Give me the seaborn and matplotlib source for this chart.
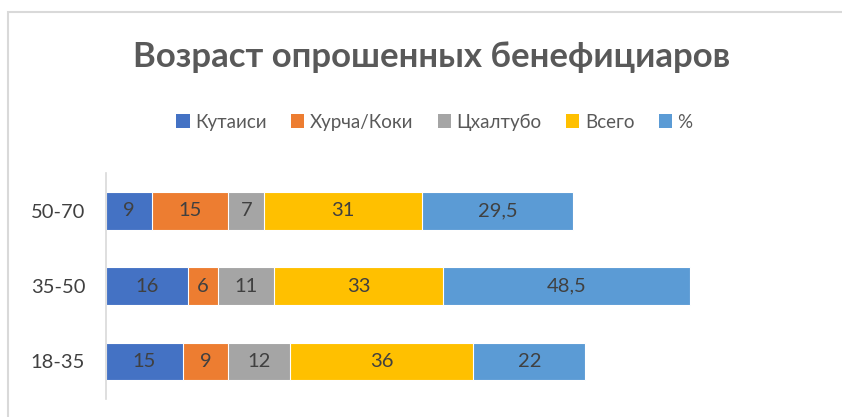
import matplotlib
matplotlib.use("Agg")
import matplotlib.pyplot as plt
import seaborn as sns
import pandas as pd
import numpy as np
from matplotlib.patches import Rectangle, Patch

categories = ["50-70", "35-50", "18-35"]
series_names = ["Кутаиси", "Хурча/Коки", "Цхалтубо", "Всего", "%"]
kutaisi = [9, 16, 15]
khurcha = [15, 6, 9]
tskhaltubo = [7, 11, 12]
vsego = [31, 33, 36]
percent = [29.5, 48.5, 22]
labels_text = [
    ["9", "16", "15"],
    ["15", "6", "9"],
    ["7", "11", "12"],
    ["31", "33", "36"],
    ["29,5", "48,5", "22"],
]
colors = ["#4472C4", "#ED7D31", "#A5A5A5", "#FFC000", "#5B9BD5"]

sns.set_theme(style="white")
plt.rcParams["font.family"] = ["Lato", "DejaVu Sans"]

fig = plt.figure(figsize=(8.42, 4.17), dpi=100)
fig.patch.set_facecolor("white")
# chart frame (cropped at right/bottom)
fig.patches.append(Rectangle((8 / 842, -0.1), 1.2, 1 - 12 / 417 + 0.1,
                             transform=fig.transFigure, fill=False,
                             edgecolor="#D9D9D9", linewidth=1.5))

ax = fig.add_axes([106 / 842, 1 - 399 / 417, 714 / 842, 226 / 417])

series = [kutaisi, khurcha, tskhaltubo, vsego, percent]
cum = np.cumsum(np.array(series, dtype=float), axis=0)
for i in range(len(series) - 1, -1, -1):
    df = pd.DataFrame({"cat": categories, "val": cum[i]})
    sns.barplot(data=df, x="val", y="cat", order=categories, orient="h",
                color=colors[i], saturation=1, width=0.5, ax=ax,
                edgecolor="white", linewidth=0.8)

for i, s in enumerate(series):
    for j, v in enumerate(s):
        ax.text(cum[i][j] - v / 2, j, labels_text[i][j], ha="center",
                va="center", fontsize=14.5, color="#404040")

ax.set_xlim(0, 140)
ax.set_ylim(2.5, -0.5)
ax.set_xlabel("")
ax.set_ylabel("")
ax.set_xticks([])
for sp in ["top", "right", "bottom"]:
    ax.spines[sp].set_visible(False)
ax.spines["left"].set_color("#D9D9D9")
ax.spines["left"].set_linewidth(1.2)
ax.tick_params(axis="y", length=0, pad=15, labelsize=14.5, labelcolor="#404040")

fig.text(0.512, 1 - 57 / 417, "Возраст опрошенных бенефициаров",
         ha="center", va="center", fontsize=25, fontweight="bold", color="#595959")

handles = [Patch(facecolor=c, edgecolor="none") for c in colors]
fig.legend(handles, series_names, loc="center", bbox_to_anchor=(0.516, 1 - 122 / 417),
           ncol=5, frameon=False, fontsize=13.5, labelcolor="#595959",
           handlelength=0.7, handleheight=0.7, handletextpad=0.3, columnspacing=1.3)

fig.savefig("out.png", dpi=100)
